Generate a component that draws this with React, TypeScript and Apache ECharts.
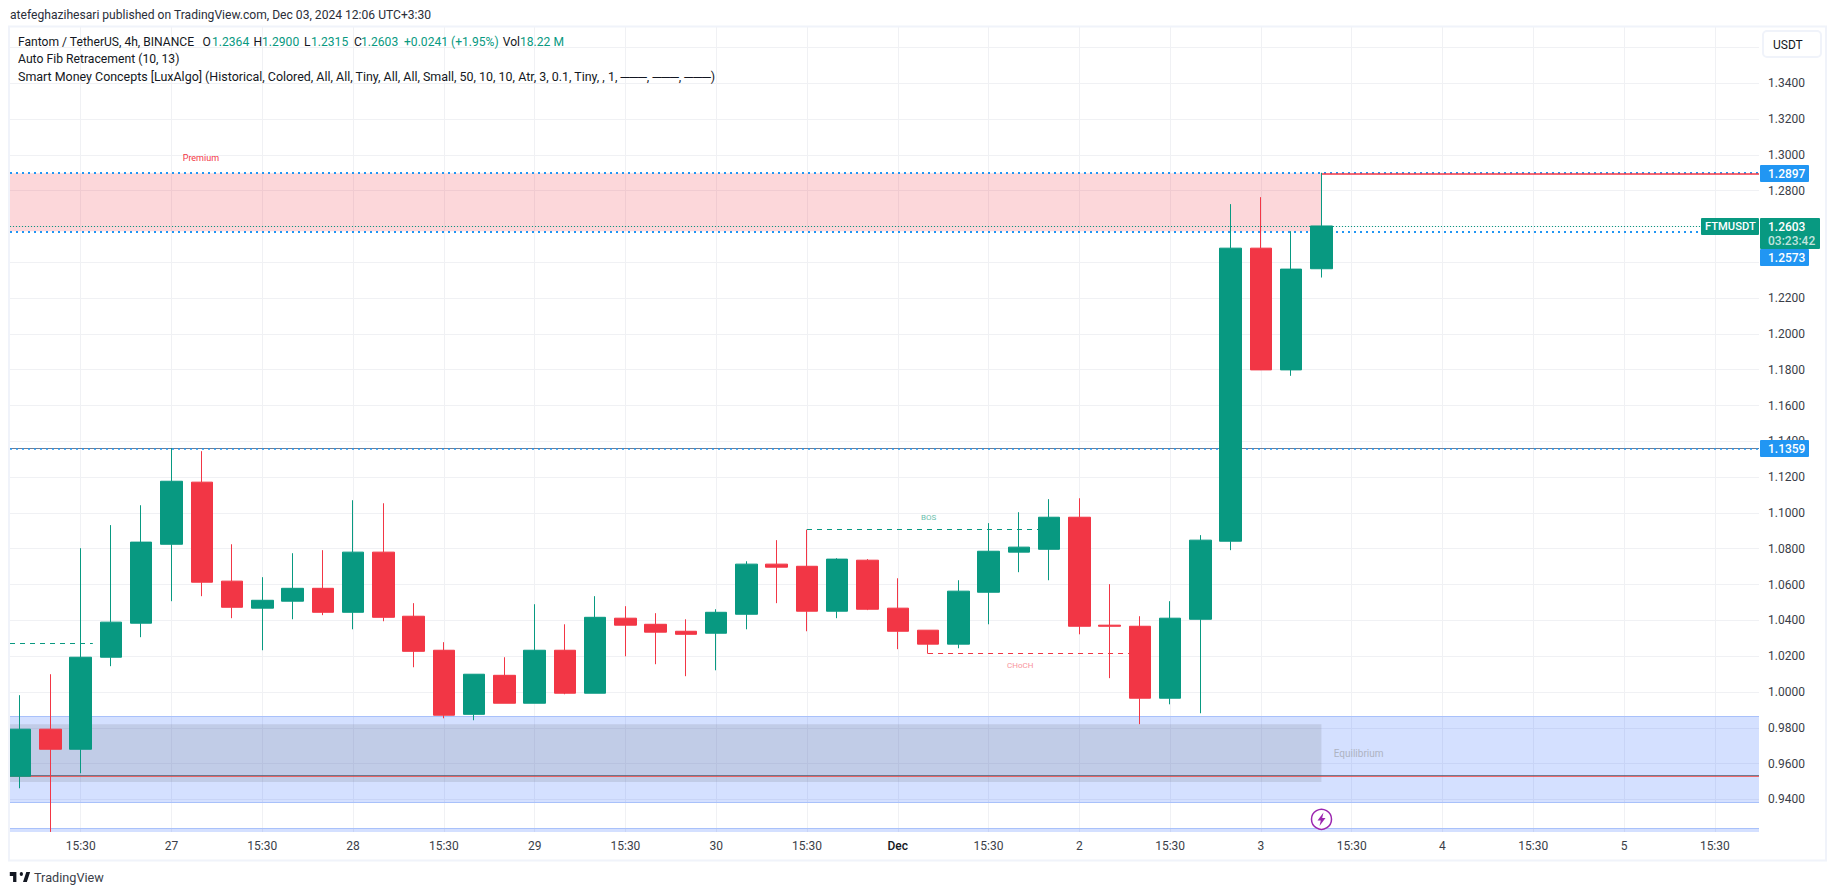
import React, { useEffect, useRef } from "react";
import * as echarts from "echarts";

const opens = [0.9529,0.9792,0.968,1.0194,1.0384,1.0825,1.1172,1.0619,1.0468,1.0507,1.0579,1.0445,1.0781,1.0423,1.0233,0.9875,1.0093,0.9937,1.0233,0.9993,1.0412,1.0378,1.0339,1.0328,1.0434,1.0714,1.0702,1.0451,1.0736,1.0468,1.0345,1.0267,1.0557,1.0781,1.0797,1.0976,1.0373,1.0367,0.9965,1.0406,1.0842,1.2479,1.1799,1.2364];
const closes = [0.9792,0.968,1.0194,1.039,1.0837,1.1177,1.0613,1.0473,1.0512,1.0579,1.0445,1.0781,1.0417,1.0227,0.987,1.0099,0.9937,1.0233,0.9993,1.0417,1.0373,1.0334,1.0322,1.0445,1.0714,1.0697,1.0451,1.0742,1.0462,1.0339,1.0267,1.0563,1.0786,1.0809,1.0976,1.0367,1.0367,0.9965,1.0412,1.0848,1.2479,1.1799,1.2362,1.2603];
const lows = [0.9462,0.9218,0.9546,1.0144,1.0306,1.0507,1.0535,1.0412,1.0233,1.0406,1.0429,1.035,1.0395,1.0138,0.9853,0.9842,0.9937,0.9937,0.9987,0.9993,1.0199,1.0155,1.0088,1.0121,1.035,1.0496,1.0339,1.0412,1.0457,1.0239,1.0214,1.0244,1.0378,1.0669,1.0624,1.0322,1.0077,0.982,0.9931,0.9881,1.0792,1.1798,1.1766,1.2315];
const highs = [0.9982,1.0099,1.0803,1.0932,1.1043,1.1362,1.1345,1.0825,1.0641,1.0775,1.0792,1.1071,1.1054,1.0496,1.0278,1.0099,1.0194,1.049,1.0378,1.0535,1.0479,1.044,1.0406,1.0462,1.073,1.0848,1.0907,1.0747,1.0742,1.0635,1.0345,1.0624,1.0943,1.1004,1.1077,1.1082,1.0602,1.0423,1.0507,1.0876,1.2725,1.2764,1.2574,1.29];

const timeTickIndex = [2,5,8,11,14,17,20,23,26,29,32,35,38,41,44,47,50,53,56];
const timeTickLabels = ["15:30","27","15:30","28","15:30","29","15:30","30","15:30","Dec","15:30","2","15:30","3","15:30","4","15:30","5","15:30"];
const priceGridValues = [0.94,0.96,0.98,1.0,1.02,1.04,1.06,1.08,1.1,1.12,1.14,1.16,1.18,1.2,1.22,1.24,1.26,1.28,1.3,1.32,1.34,1.36];
const priceLabelValues = [0.94,0.96,0.98,1.0,1.02,1.04,1.06,1.08,1.1,1.12,1.14,1.16,1.18,1.2,1.22,1.28,1.3,1.32,1.34];

const lastBar = 43;
const premiumLevels = [1.2897, 1.2573];
const swingHigh = 1.1359;
const lastClose = 1.2603;
const discountLevels = [0.9862, 0.9382];
const lowerZoneTop = 0.9237;
const grayZone = [0.982, 0.9497];
const equilibriumLine = 0.9527;
const bosLevel = 1.0907;
const chochLevel = 1.0214;
const earlyBosLevel = 1.027;

const FONT = "Roboto";
const GREEN = "#089981";
const RED = "#f23645";
const BLUE = "#2196f3";
const XMIN = -0.3371;
const XMAX = 57.46;
const YMIN = 0.92177;
const YMAX = 1.37144;

echarts.graphic.registerShape(
  "tvlogo",
  echarts.graphic.extendPath(
    "M14 6H2v6h6v9h6V6zM33 21h-7l6-15h7l-6 15zM23 12a3 3 0 1 0 0-6 3 3 0 0 0 0 6z",
    {}
  ) as any
);

const seg = (x0: number, y0: number, x1: number, y1: number, lineStyle: any) => [
  { coord: [x0, y0], lineStyle },
  { coord: [x1, y1] },
];
const zone = (x0: number, y0: number, x1: number, y1: number, color: string) => [
  { coord: [x0, y0], itemStyle: { color } },
  { coord: [x1, y1] },
];
const txt = (text: string, x: number, y: number, fill: string, fontSize = 12, extra: any = {}) => ({
  type: "text",
  x,
  y,
  z: 60,
  silent: true,
  style: { text, fill, fontSize, fontFamily: FONT, textVerticalAlign: "middle", verticalAlign: "middle", ...extra },
});
const tagRect = (x: number, y: number, w: number, h: number, fill: string) => ({
  type: "rect",
  z: 55,
  silent: true,
  shape: { x, y, width: w, height: h, r: 1 },
  style: { fill },
});
const BOLD = { fontWeight: 500 };

const legendLine1: [string, number, string][] = [
  ["Fantom / TetherUS, 4h, BINANCE", 18, "#131722"],
  ["O", 202.6, "#131722"],
  ["1.2364", 212, GREEN],
  ["H", 253.5, "#131722"],
  ["1.2900", 262, GREEN],
  ["L", 304, "#131722"],
  ["1.2315", 311, GREEN],
  ["C", 354, "#131722"],
  ["1.2603", 361, GREEN],
  ["+0.0241 (+1.95%)", 404, GREEN],
  ["Vol", 502.7, "#131722"],
  ["18.22 M", 520, GREEN],
];

export default function App() {
  const ref = useRef<HTMLDivElement>(null);
  useEffect(() => {
    document.body.style.margin = "0";
    document.documentElement.style.overflow = "hidden";
    const chart = echarts.init(ref.current!, undefined, { renderer: "svg" });
    const candles = opens.map((o, i) => [i, o, closes[i], lows[i], highs[i]]);
    chart.setOption({
      animation: false,
      backgroundColor: "#ffffff",
      grid: { left: 10, right: 76, top: 27, bottom: 63, containLabel: false },
      xAxis: {
        type: "value",
        min: XMIN,
        max: XMAX,
        axisLine: { show: false },
        axisTick: { show: false, customValues: timeTickIndex },
        splitLine: { show: true, lineStyle: { color: "#f0f1f4", width: 1 } },
        axisLabel: {
          customValues: timeTickIndex,
          margin: 8,
          color: "#3a3e48",
          fontFamily: FONT,
          fontSize: 12,
          formatter: (v: number) => {
            const l = timeTickLabels[timeTickIndex.indexOf(Math.round(v))];
            return l === "Dec" ? "{b|Dec}" : l;
          },
          rich: { b: { color: "#131722", fontFamily: FONT, fontSize: 12, fontWeight: 500 } },
        },
      },
      yAxis: {
        type: "value",
        position: "right",
        min: YMIN,
        max: YMAX,
        axisLine: { show: false },
        axisTick: { show: false, customValues: priceGridValues },
        splitLine: { show: true, lineStyle: { color: "#f0f1f4", width: 1 } },
        axisLabel: {
          customValues: priceLabelValues,
          margin: 9,
          align: "left",
          color: "#3a3e48",
          fontFamily: FONT,
          fontSize: 12,
          formatter: (v: number) => v.toFixed(4),
        },
      },
      series: [
        {
          type: "candlestick",
          data: candles,
          barWidth: 22,
          silent: true,
          itemStyle: { color: GREEN, color0: RED, borderColor: GREEN, borderColor0: RED, borderWidth: 1 },
          markArea: {
            silent: true,
            z: 1,
            label: { show: false },
            data: [
              zone(XMIN, premiumLevels[0], lastBar, premiumLevels[1], "rgba(242,54,69,0.2)"),
              zone(XMIN, discountLevels[0], XMAX, discountLevels[1], "rgba(41,98,255,0.2)"),
              zone(XMIN, lowerZoneTop, XMAX, YMIN, "rgba(41,98,255,0.2)"),
              zone(XMIN, grayZone[0], lastBar, grayZone[1], "rgba(120,123,134,0.2)"),
            ],
          },
          markLine: {
            silent: true,
            z: 1,
            symbol: ["none", "none"],
            label: { show: false },
            data: [
              seg(XMIN, premiumLevels[0] + 0.0003, XMAX, premiumLevels[0] + 0.0003, { color: BLUE, width: 2, type: [2, 4] }),
              seg(XMIN, premiumLevels[1], XMAX, premiumLevels[1], { color: BLUE, width: 2, type: [2, 4] }),
              seg(XMIN, lastClose, XMAX, lastClose, { color: GREEN, width: 1, type: [1, 2] }),
              seg(lastBar, premiumLevels[0], XMAX, premiumLevels[0], { color: RED, width: 1.5, type: "solid" }),
              seg(XMIN, swingHigh + 0.0005, XMAX, swingHigh + 0.0005, { color: "#6f7c92", width: 1, type: "solid" }),
              seg(XMIN, swingHigh, XMAX, swingHigh, { color: BLUE, width: 1.5, type: [2, 4] }),
              seg(XMIN, discountLevels[0], XMAX, discountLevels[0], { color: "#a9c1fa", width: 1, type: "solid" }),
              seg(XMIN, discountLevels[1], XMAX, discountLevels[1], { color: "#a9c1fa", width: 1, type: "solid" }),
              seg(XMIN, lowerZoneTop, XMAX, lowerZoneTop, { color: "#a9c1fa", width: 1, type: "solid" }),
              seg(XMIN, equilibriumLine + 0.0005, XMAX, equilibriumLine + 0.0005, { color: "#566074", width: 0.8, type: "solid" }),
              seg(XMIN, equilibriumLine, XMAX, equilibriumLine, { color: "#f5352c", width: 0.7, type: "solid" }),
              seg(26, bosLevel, 34, bosLevel, { color: GREEN, width: 1, type: [5, 5] }),
              seg(30, chochLevel, 37, chochLevel, { color: RED, width: 1, type: [5, 5] }),
              seg(XMIN, earlyBosLevel, 2.4, earlyBosLevel, { color: GREEN, width: 1, type: [5, 5] }),
            ],
          },
        },
      ],
      graphic: [
        {
          type: "rect",
          z: 40,
          silent: true,
          shape: { x: 9, y: 26.5, width: 1817, height: 834 },
          style: { fill: "none", stroke: "#f0f3fa", lineWidth: 2 },
        },
        txt("atefeghazihesari published on TradingView.com, Dec 03, 2024 12:06 UTC+3:30", 10, 15, "#2a2e39", 12.1),
        ...legendLine1.map(([t, x, c]) => txt(t, x, 41.7, c, 12.1)),
        txt("Auto Fib Retracement (10, 13)", 18, 59, "#131722", 12.2),
        txt(
          "Smart Money Concepts [LuxAlgo] (Historical, Colored, All, All, Tiny, All, All, Small, 50, 10, 10, Atr, 3, 0.1, Tiny, , 1, ───, ───, ───)",
          18,
          76,
          "#131722",
          12.45
        ),
        txt("Premium", 182.7, 157.7, RED, 9),
        txt("BOS", 921, 517.3, "#6cc0ad", 8),
        txt("CHoCH", 1007, 665.3, "#f8939b", 8),
        txt("Equilibrium", 1333.7, 753.7, "#aeb3c2", 10),
        {
          type: "rect",
          z: 55,
          silent: true,
          shape: { x: 1763, y: 31, width: 58, height: 26, r: 4 },
          style: { fill: "#fff", stroke: "#f0f3fa", lineWidth: 2 },
        },
        txt("USDT", 1773, 44.7, "#131722", 12),
        tagRect(1760, 165, 49, 17, BLUE),
        txt("1.2897", 1768, 173.6, "#fff", 12, BOLD),
        tagRect(1760, 218, 60, 31, GREEN),
        txt("1.2603", 1768, 226.7, "#fff", 12, BOLD),
        txt("03:23:42", 1768, 240.5, "rgba(255,255,255,0.75)", 12, BOLD),
        tagRect(1760, 249, 49, 17, BLUE),
        txt("1.2573", 1768, 257.7, "#fff", 12, BOLD),
        tagRect(1701, 218, 58, 17, GREEN),
        txt("FTMUSDT", 1705, 226.7, "#fff", 11.2, BOLD),
        tagRect(1760, 440, 49, 17, BLUE),
        txt("1.1359", 1768, 448.5, "#fff", 12, BOLD),
        {
          type: "circle",
          z: 58,
          silent: true,
          shape: { cx: 1321.5, cy: 819.3, r: 10 },
          style: { fill: "#fff", stroke: "#9c27b0", lineWidth: 1.5 },
        },
        {
          type: "polygon",
          z: 59,
          silent: true,
          shape: {
            points: [
              [1323.5, 812.5],
              [1317.5, 820.5],
              [1320.8, 820.5],
              [1319.5, 826],
              [1325.5, 818],
              [1322.2, 818],
            ],
          },
          style: { fill: "#9c27b0" },
        },
        {
          type: "tvlogo",
          z: 60,
          silent: true,
          x: 8.7,
          y: 868,
          scaleX: 0.55,
          scaleY: 0.67,
          style: { fill: "#131722" },
        },
        txt("TradingView", 34, 877.7, "#3a3e48", 12.7),
      ],
    });
    return () => chart.dispose();
  }, []);
  return <div ref={ref} style={{ position: "absolute", left: 0, top: 0, width: 1835, height: 895 }} />;
}
